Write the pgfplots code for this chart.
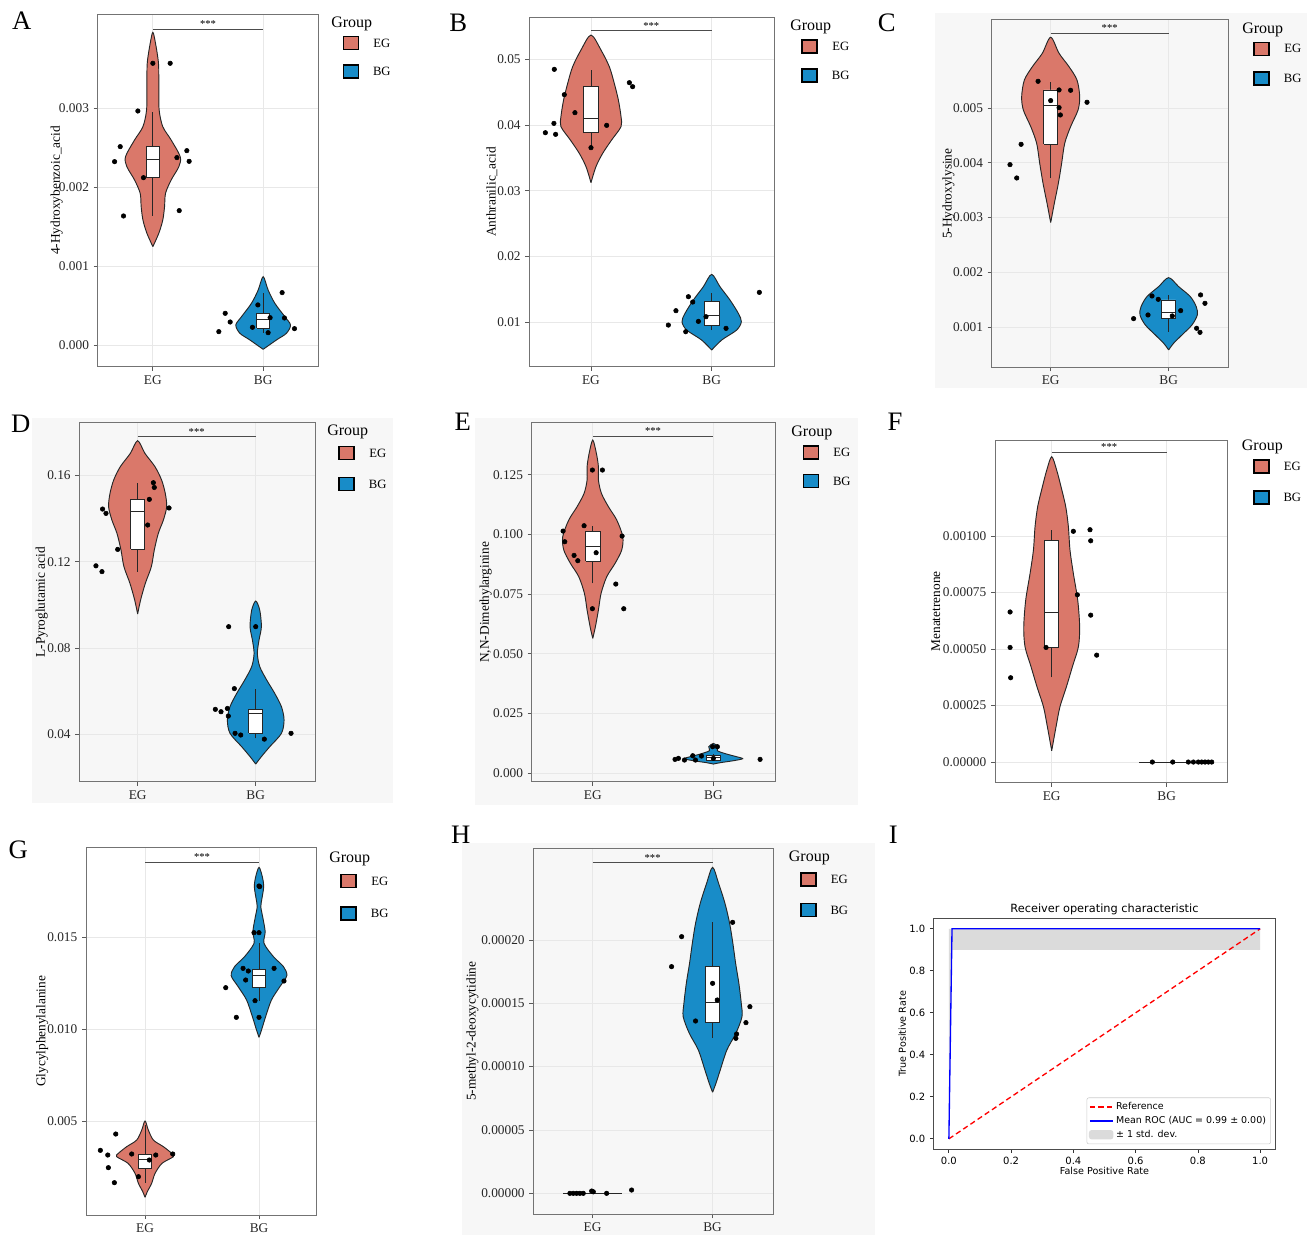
\documentclass[border=0pt]{standalone}
\usepackage{fontspec}
\setmainfont{Liberation Serif}
\newfontfamily\djv{DejaVu Sans}
\usepackage{pgfplots}
\usepackage{pgfplotstable}
\pgfplotsset{compat=1.18}
\definecolor{EGc}{RGB}{218,120,106}
\definecolor{BGc}{RGB}{24,140,200}
\definecolor{bgc}{RGB}{247,247,247}

% ---------------- violin outlines (y, signed half width): right side up, left side down ----------------
\pgfplotstableread{
y w
0.001249 0
0.001418 0.054
0.001586 0.090
0.001755 0.106
0.001924 0.115
0.002093 0.166
0.002262 0.236
0.002388 0.248
0.002599 0.166
0.002768 0.090
0.002980 0.057
0.003274 0.054
0.003570 0.051
0.003823 0.024
0.003962 0
0.003823 -0.024
0.003570 -0.051
0.003274 -0.054
0.002980 -0.057
0.002768 -0.090
0.002599 -0.166
0.002388 -0.248
0.002262 -0.236
0.002093 -0.166
0.001924 -0.115
0.001755 -0.106
0.001586 -0.090
0.001418 -0.054
0.001249 0
}\vAe
\pgfplotstableread{
y w
-0.000051 0
0.000068 0.121
0.000152 0.211
0.000257 0.248
0.000363 0.196
0.000532 0.106
0.000700 0.045
0.000869 0
0.000700 -0.045
0.000532 -0.106
0.000363 -0.196
0.000257 -0.248
0.000152 -0.211
0.000068 -0.121
-0.000051 0
}\vAb
\pgfplotstableread{
y w
0.03122 0
0.03365 0.041
0.03569 0.097
0.03772 0.171
0.03975 0.249
0.04127 0.249
0.04381 0.227
0.04635 0.193
0.04888 0.152
0.05142 0.083
0.0537 0
0.05142 -0.083
0.04888 -0.152
0.04635 -0.193
0.04381 -0.227
0.04127 -0.249
0.03975 -0.249
0.03772 -0.171
0.03569 -0.097
0.03365 -0.041
0.03122 0
}\vBe
\pgfplotstableread{
y w
0.00574 0
0.00726 0.083
0.00878 0.207
0.01005 0.246
0.01132 0.221
0.01335 0.152
0.01538 0.069
0.01726 0
0.01538 -0.069
0.01335 -0.152
0.01132 -0.221
0.01005 -0.246
0.00878 -0.207
0.00726 -0.083
0.00574 0
}\vBb
\pgfplotstableread{
y w
0.002906 0
0.003259 0.031
0.003624 0.065
0.003989 0.093
0.004355 0.119
0.004659 0.169
0.004963 0.232
0.005207 0.246
0.005511 0.223
0.005755 0.155
0.005998 0.071
0.006291 0
0.005998 -0.071
0.005755 -0.155
0.005511 -0.223
0.005207 -0.246
0.004963 -0.232
0.004659 -0.169
0.004355 -0.119
0.003989 -0.093
0.003624 -0.065
0.003259 -0.031
0.002906 0
}\vCe
\pgfplotstableread{
y w
0.000580 0
0.000702 0.042
0.000854 0.113
0.001037 0.198
0.001219 0.243
0.001371 0.234
0.001554 0.184
0.001737 0.085
0.001901 0
0.001737 -0.085
0.001554 -0.184
0.001371 -0.234
0.001219 -0.243
0.001037 -0.198
0.000854 -0.113
0.000702 -0.042
0.000580 0
}\vCb
\pgfplotstableread{
y w
0.09575 0
0.10224 0.025
0.10996 0.065
0.11768 0.116
0.12541 0.141
0.13313 0.175
0.13931 0.218
0.14548 0.246
0.15166 0.234
0.15784 0.203
0.16402 0.147
0.17019 0.062
0.17606 0
0.17019 -0.062
0.16402 -0.147
0.15784 -0.203
0.15166 -0.234
0.14548 -0.246
0.13931 -0.218
0.13313 -0.175
0.12541 -0.141
0.11768 -0.116
0.10996 -0.065
0.10224 -0.025
0.09575 0
}\vDe
\pgfplotstableread{
y w
0.02625 0
0.0297 0.048
0.0343 0.119
0.0405 0.218
0.0467 0.240
0.0528 0.218
0.0590 0.161
0.0652 0.093
0.0714 0.034
0.0775 0.014
0.0837 0.028
0.0899 0.048
0.0976 0.034
0.10178 0
0.0976 -0.034
0.0899 -0.048
0.0837 -0.028
0.0775 -0.014
0.0714 -0.034
0.0652 -0.093
0.0590 -0.161
0.0528 -0.218
0.0467 -0.240
0.0405 -0.218
0.0343 -0.119
0.0297 -0.048
0.02625 0
}\vDb
\pgfplotstableread{
y w
0.05642 0
0.06131 0.022
0.06830 0.047
0.07528 0.069
0.08227 0.116
0.08785 0.185
0.09344 0.240
0.09902 0.249
0.10601 0.199
0.11159 0.130
0.11718 0.072
0.12277 0.047
0.12835 0.047
0.13394 0.030
0.13953 0
0.13394 -0.030
0.12835 -0.047
0.12277 -0.047
0.11718 -0.072
0.11159 -0.130
0.10601 -0.199
0.09902 -0.249
0.09344 -0.240
0.08785 -0.185
0.08227 -0.116
0.07528 -0.069
0.06830 -0.047
0.06131 -0.022
0.05642 0
}\vEe
\pgfplotstableread{
y w
0.00377 0
0.00433 0.055
0.00517 0.166
0.00601 0.243
0.00684 0.193
0.00796 0.110
0.00936 0.033
0.01103 0.039
0.01242 0
0.01103 -0.039
0.00936 -0.033
0.00796 -0.110
0.00684 -0.193
0.00601 -0.243
0.00517 -0.166
0.00433 -0.055
0.00377 0
}\vEb
\pgfplotstableread{
y w
0.0000501 0
0.000157 0.038
0.000245 0.072
0.000333 0.128
0.000422 0.180
0.000510 0.232
0.000599 0.243
0.000717 0.226
0.000835 0.188
0.000938 0.159
0.001041 0.145
0.001130 0.122
0.001218 0.081
0.001292 0.043
0.001351 0
0.001292 -0.043
0.001218 -0.081
0.001130 -0.122
0.001041 -0.145
0.000938 -0.159
0.000835 -0.188
0.000717 -0.226
0.000599 -0.243
0.000510 -0.232
0.000422 -0.180
0.000333 -0.128
0.000245 -0.072
0.000157 -0.038
0.0000501 0
}\vFe
\pgfplotstableread{
y w
0.000851 0
0.001159 0.020
0.001612 0.058
0.002156 0.088
0.002699 0.149
0.003062 0.249
0.003243 0.234
0.003605 0.161
0.003967 0.073
0.004511 0.029
0.005 0
0.004511 -0.029
0.003967 -0.073
0.003605 -0.161
0.003243 -0.234
0.003062 -0.249
0.002699 -0.149
0.002156 -0.088
0.001612 -0.058
0.001159 -0.020
0.000851 0
}\vGe
\pgfplotstableread{
y w
0.009547 0
0.009946 0.022
0.010670 0.058
0.011576 0.109
0.012301 0.183
0.012899 0.244
0.013388 0.215
0.013931 0.127
0.014656 0.044
0.015290 0.054
0.016105 0.032
0.016649 0.016
0.017101 0.026
0.017736 0.041
0.018279 0.029
0.018786 0
0.018279 -0.029
0.017736 -0.041
0.017101 -0.026
0.016649 -0.016
0.016105 -0.032
0.015290 -0.054
0.014656 -0.044
0.013931 -0.127
0.013388 -0.215
0.012899 -0.244
0.012301 -0.183
0.011576 -0.109
0.010670 -0.058
0.009946 -0.022
0.009547 0
}\vGb
\pgfplotstableread{
y w
0.00007974 0
0.00008684 0.028
0.00009737 0.064
0.00011316 0.119
0.00012632 0.194
0.00013947 0.245
0.00015 0.239
0.00016579 0.219
0.00018158 0.192
0.00019737 0.169
0.00021316 0.142
0.00022895 0.103
0.00024474 0.050
0.00025737 0
0.00024474 -0.050
0.00022895 -0.103
0.00021316 -0.142
0.00019737 -0.169
0.00018158 -0.192
0.00016579 -0.219
0.00015 -0.239
0.00013947 -0.245
0.00012632 -0.194
0.00011316 -0.119
0.00009737 -0.064
0.00008684 -0.028
0.00007974 0
}\vHb

% ---------------- jittered points ----------------
\pgfplotstableread{
x y
1.000 0.003570
1.157 0.003570
0.864 0.002966
0.704 0.002515
0.653 0.002325
1.308 0.002464
1.218 0.002376
1.329 0.002329
0.915 0.002122
0.734 0.001637
1.239 0.001705
1.598 0.000173
1.656 0.000405
1.701 0.000295
1.903 0.000228
1.952 0.000511
2.063 0.000350
2.045 0.000160
2.172 0.000667
2.193 0.000346
2.284 0.000211
}\pA
\pgfplotstableread{
x y
0.696 0.04848
0.779 0.04462
0.867 0.04188
0.693 0.04025
0.622 0.03883
0.707 0.03858
1.000 0.03655
1.130 0.03995
1.318 0.04645
1.345 0.04584
1.641 0.00954
1.704 0.01173
1.807 0.01386
1.843 0.01305
1.890 0.01010
1.953 0.01081
1.785 0.00853
2.119 0.00904
2.395 0.01452
}\pB
\pgfplotstableread{
x y
0.893 0.005487
1.071 0.005329
1.169 0.005323
1.000 0.005134
1.308 0.005104
1.071 0.005006
1.082 0.004872
0.749 0.004336
0.655 0.003965
0.712 0.003721
1.703 0.001152
1.825 0.001219
1.859 0.001566
1.912 0.001505
2.031 0.001201
2.102 0.001298
2.271 0.001585
2.308 0.001432
2.237 0.000976
2.266 0.000902
}\pC
\pgfplotstableread{
x y
0.703 0.1444
0.732 0.1424
0.831 0.1257
0.647 0.1181
0.698 0.1154
1.085 0.1370
1.099 0.1489
1.133 0.1566
1.141 0.1544
1.266 0.1449
1.771 0.0899
2.000 0.0899
1.819 0.0612
1.658 0.0516
1.706 0.0505
1.760 0.0520
1.768 0.0485
1.825 0.0405
1.873 0.0397
2.073 0.0378
2.299 0.0405
}\pD
\pgfplotstableread{
x y
0.997 0.12696
1.080 0.12696
0.754 0.10139
0.768 0.09693
0.928 0.10363
0.845 0.09120
0.876 0.08897
1.028 0.09232
1.243 0.09930
1.191 0.07919
0.997 0.06885
1.257 0.06885
1.682 0.00573
1.710 0.00615
1.760 0.00545
1.829 0.00726
1.851 0.00545
1.901 0.00712
2.000 0.00615
1.994 0.01103
2.033 0.01103
2.387 0.00573
}\pE
\pgfplotstableread{
x y
0.638 0.000664
0.638 0.000507
0.643 0.000373
0.951 0.000507
1.188 0.001021
1.333 0.001028
1.339 0.000979
1.223 0.000740
1.339 0.000650
1.391 0.000473
1.875 0
2.052 0
2.188 0
2.232 0
2.275 0
2.304 0
2.333 0
2.362 0
2.391 0
}\pF
\pgfplotstableread{
x y
0.743 0.004293
0.608 0.003406
0.673 0.003152
0.678 0.002464
0.731 0.001649
0.883 0.003207
0.942 0.001975
1.038 0.002880
1.094 0.003152
1.243 0.003207
2.000 0.017772
2.006 0.017740
1.956 0.015236
2.000 0.015236
1.860 0.013297
1.906 0.013152
1.883 0.012663
2.132 0.013297
2.219 0.012609
1.708 0.012246
1.965 0.011540
1.801 0.010634
2.000 0.010634
}\pG
\pgfplotstableread{
x y
0.811 0
0.839 0
0.867 0
0.894 0
0.922 0
0.992 0.0000018
1.006 0.0000012
1.117 0
1.325 0.0000026
1.742 0.00020263
1.658 0.00017895
2.000 0.00016579
2.039 0.00015263
2.167 0.00021395
1.858 0.00013605
2.311 0.00014737
2.278 0.00013474
2.200 0.00012579
2.194 0.00012237
}\pH

% ---------------- helpers ----------------
\newcommand{\violin}[3]{%
  \addplot[smooth, fill=#3, draw=black!85, line width=0.7pt, forget plot] table[x expr=#1+\thisrow{w}, y=y]{#2};
}
% center, left, right, lower whisker, q1, median, q3, upper whisker
\newcommand{\bx}[8]{%
  \addplot[black!85, line width=0.6pt, forget plot] coordinates {(#1,#4) (#1,#5)};
  \addplot[black!85, line width=0.6pt, forget plot] coordinates {(#1,#7) (#1,#8)};
  \addplot[fill=white, draw=black!85, line width=0.6pt, forget plot] coordinates {(#2,#5) (#3,#5) (#3,#7) (#2,#7) (#2,#5)};
  \addplot[black!85, line width=0.6pt, forget plot] coordinates {(#2,#6) (#3,#6)};
}
\newcommand{\sig}[1]{%
  \addplot[black!70, line width=0.6pt, forget plot] coordinates {(1,#1) (2,#1)};
  \node[font=\fontsize{8}{8}\selectfont, anchor=south, inner sep=1pt] at (axis cs:1.5,#1) {***};
}
\newcommand{\pts}[1]{%
  \addplot[only marks, mark=*, mark size=1.7pt, black, forget plot] table[x=x, y=y]{#1};
}
\newcommand{\lgd}[4]{%
  \node[font=\fontsize{12}{14}\selectfont] at (#1+1,#2) {Group};
  \draw[line width=1.1pt, fill=EGc] (#1-7.5,#3-6.5) rectangle (#1+7.5,#3+6.5);
  \draw[line width=1.1pt, fill=BGc] (#1-7.5,#4-6.5) rectangle (#1+7.5,#4+6.5);
  \node[font=\fontsize{9.5}{11}\selectfont] at (#1+31,#3) {EG};
  \node[font=\fontsize{9.5}{11}\selectfont] at (#1+31,#4) {BG};
}
\newcommand{\plab}[3]{\node[font=\fontsize{20}{24}\selectfont] at (#1,#2) {#3};}

\pgfplotsset{vio/.style={
  scale only axis, anchor=south west,
  xtick={1,2}, xticklabels={EG,BG},
  scaled y ticks=false, scaled x ticks=false,
  tick align=outside, xtick pos=lower, ytick pos=left,
  major tick length=3pt,
  tick style={black!65, line width=0.6pt},
  axis line style={black!55, line width=0.75pt},
  grid=major, major grid style={black!9, line width=0.6pt},
  ticklabel style={font=\fontsize{10}{12}\selectfont, text=black!85},
  ylabel style={font=\fontsize{10}{12}\selectfont, anchor=center},
}}

\begin{document}
\begin{tikzpicture}[x=0.75pt, y=-0.75pt]
\path[use as bounding box] (0,0) rectangle (1316,1235);
\fill[bgc] (935,13.3) rectangle (1306.7,388.3);
\fill[bgc] (31.7,418) rectangle (393,803);
\fill[bgc] (475,418) rectangle (858,805);
\fill[bgc] (462,843) rectangle (875,1235);

% ---- A ----
\begin{axis}[vio, at={(73.28pt,-275.03pt)}, width=165.45pt, height=264.3pt,
  xmin=0.5, xmax=2.5, ymin=-0.000271, ymax=0.00419,
  ytick={0,0.001,0.002,0.003}, yticklabels={0.000,0.001,0.002,0.003},
  ylabel={4-Hydroxybenzoic\_acid}, ylabel style={at={(axis description cs:-0.186,0.5)}}]
\violin{1}{\vAe}{EGc}
\violin{2}{\vAb}{BGc}
\bx{1}{0.94}{1.06}{0.001637}{0.002122}{0.002354}{0.002515}{0.002958}
\bx{2}{1.94}{2.06}{0.00016}{0.000215}{0.000329}{0.000405}{0.000658}
\pts{\pA}
\sig{0.004004}
\end{axis}

% ---- B ----
\begin{axis}[vio, at={(396.98pt,-275.03pt)}, width=183.75pt, height=262.05pt,
  xmin=0.489, xmax=2.519, ymin=0.0032, ymax=0.0564,
  ytick={0.01,0.02,0.03,0.04,0.05}, yticklabels={0.01,0.02,0.03,0.04,0.05},
  ylabel={Anthranilic\_acid}, ylabel style={at={(axis description cs:-0.153,0.5)}}]
\violin{1}{\vBe}{EGc}
\violin{2}{\vBb}{BGc}
\bx{1}{0.94}{1.06}{0.0367}{0.03883}{0.04102}{0.04584}{0.04838}
\bx{2}{1.94}{2.06}{0.00878}{0.00944}{0.01096}{0.0131}{0.01447}
\pts{\pB}
\sig{0.05437}
\end{axis}

% ---- C ----
\begin{axis}[vio, at={(743.78pt,-275.48pt)}, width=177.45pt, height=260.5pt,
  xmin=0.5, xmax=2.506, ymin=0.000263, ymax=0.006607,
  ytick={0.001,0.002,0.003,0.004,0.005}, yticklabels={0.001,0.002,0.003,0.004,0.005},
  ylabel={5-Hydroxylysine}, ylabel style={at={(axis description cs:-0.183,0.5)}}]
\violin{1}{\vCe}{EGc}
\violin{2}{\vCb}{BGc}
\bx{1}{0.94}{1.06}{0.003715}{0.004336}{0.005049}{0.005329}{0.005481}
\bx{2}{1.94}{2.06}{0.000915}{0.001152}{0.001262}{0.001493}{0.001585}
\pts{\pC}
\sig{0.006364}
\end{axis}

% ---- D ----
\begin{axis}[vio, at={(59.48pt,-586.28pt)}, width=177.3pt, height=269.25pt,
  xmin=0.506, xmax=2.508, ymin=0.01807, ymax=0.1844,
  ytick={0.04,0.08,0.12,0.16}, yticklabels={0.04,0.08,0.12,0.16},
  ylabel={L-Pyroglutamic acid}, ylabel style={at={(axis description cs:-0.159,0.5)}}]
\violin{1}{\vDe}{EGc}
\violin{2}{\vDb}{BGc}
\bx{1}{0.94}{1.06}{0.11537}{0.12571}{0.14317}{0.14888}{0.1566}
\bx{2}{1.94}{2.06}{0.03815}{0.04046}{0.04973}{0.05158}{0.06085}
\pts{\pD}
\sig{0.1779}
\end{axis}

% ---- E ----
\begin{axis}[vio, at={(398.78pt,-586.28pt)}, width=182.5pt, height=269.25pt,
  xmin=0.494, xmax=2.511, ymin=-0.00363, ymax=0.14679,
  ytick={0,0.025,0.05,0.075,0.1,0.125}, yticklabels={0.000,0.025,0.050,0.075,0.100,0.125},
  ylabel={N,N-Dimethylarginine}, ylabel style={at={(axis description cs:-0.189,0.5)}}]
\violin{1}{\vEe}{EGc}
\violin{2}{\vEb}{BGc}
\bx{1}{0.94}{1.06}{0.07947}{0.08883}{0.09483}{0.10112}{0.10349}
\bx{2}{1.94}{2.06}{0.0052}{0.00545}{0.00656}{0.0074}{0.0078}
\pts{\pE}
\sig{0.1412}
\end{axis}

% ---- F ----
\begin{axis}[vio, at={(746.25pt,-587.03pt)}, width=174.5pt, height=257pt,
  xmin=0.507, xmax=2.53, ymin=-0.0000915, ymax=0.0014248,
  ytick={0,0.00025,0.0005,0.00075,0.001}, yticklabels={0.00000,0.00025,0.00050,0.00075,0.00100},
  ylabel={Menatetrenone}, ylabel style={at={(axis description cs:-0.254,0.5)}}]
\violin{1}{\vFe}{EGc}
\addplot[black!85, line width=0.7pt, forget plot] coordinates {(1.76,0) (2.41,0)};
\bx{1}{0.94}{1.06}{0.000375}{0.000506}{0.000661}{0.000979}{0.001027}
\pts{\pF}
\sig{0.0013717}
\end{axis}

% ---- G ----
\begin{axis}[vio, at={(64.5pt,-911.25pt)}, width=172.5pt, height=275.5pt,
  xmin=0.482, xmax=2.5, ymin=-0.000109, ymax=0.019855,
  ytick={0.005,0.01,0.015}, yticklabels={0.005,0.010,0.015},
  ylabel={Glycylphenylalanine}, ylabel style={at={(axis description cs:-0.19,0.5)}}]
\violin{1}{\vGe}{EGc}
\violin{2}{\vGb}{BGc}
\bx{1}{0.94}{1.06}{0.001649}{0.002428}{0.002917}{0.003207}{0.004783}
\bx{2}{1.94}{2.06}{0.01154}{0.012246}{0.012935}{0.013261}{0.01465}
\pts{\pG}
\sig{0.019076}
\end{axis}

% ---- H ----
\begin{axis}[vio, at={(399.98pt,-910.73pt)}, width=180pt, height=274.5pt,
  xmin=0.506, xmax=2.506, ymin=-0.00001658, ymax=0.00027237,
  ytick={0,0.00005,0.0001,0.00015,0.0002}, yticklabels={0.00000,0.00005,0.00010,0.00015,0.00020},
  ylabel={5-methyl-2-deoxycytidine}, ylabel style={at={(axis description cs:-0.254,0.5)}}]
\addplot[black!85, line width=0.7pt, forget plot] coordinates {(0.756,0) (1.242,0)};
\violin{2}{\vHb}{BGc}
\bx{2}{1.94}{2.06}{0.00012289}{0.000135}{0.00015053}{0.00017895}{0.00021447}
\pts{\pH}
\sig{0.00026105}
\end{axis}

% ---- I (ROC) ----
\begin{axis}[scale only axis, anchor=south west, at={(699.98pt,-861.98pt)},
  width=256.8pt, height=173.25pt,
  xmin=-0.05, xmax=1.05, ymin=-0.05, ymax=1.05,
  xtick={0,0.2,0.4,0.6,0.8,1}, ytick={0,0.2,0.4,0.6,0.8,1},
  xticklabels={0.0,0.2,0.4,0.6,0.8,1.0}, yticklabels={0.0,0.2,0.4,0.6,0.8,1.0},
  tick align=outside, xtick pos=lower, ytick pos=left, major tick length=2.5pt,
  tick style={black!80, line width=0.6pt},
  axis line style={black!70, line width=0.8pt},
  ticklabel style={font=\djv\fontsize{7.5}{8.5}\selectfont},
  title={Receiver operating characteristic},
  title style={font=\djv\fontsize{8.5}{10}\selectfont, at={(0.5,1)}, anchor=south, yshift=-7pt},
  xlabel={False Positive Rate}, ylabel={True Positive Rate},
  label style={font=\djv\fontsize{7.2}{8.5}\selectfont},
  xlabel style={at={(axis description cs:0.5,-0.0926)}, anchor=center},
  ylabel style={at={(axis description cs:-0.0905,0.5)}, anchor=center},
  legend cell align=left,
  legend image post style={line width=1.3pt},
  legend style={at={(0.986,0.022)}, anchor=south east, font=\djv\fontsize{7.1}{8}\selectfont,
    draw=black!20, rounded corners=1.5pt, inner sep=1.5pt, row sep=-0.5pt}]
\addplot[fill=black!14, draw=none, forget plot] coordinates {(0,0) (0,1) (1,1) (1,0.9) (0.0101,0.9) (0,0)};
\addplot[color=red, line width=1pt, dash pattern=on 4pt off 2.5pt] coordinates {(0,0) (1,1)};
\addlegendentry{Reference}
\addplot[color=blue, draw=blue, line width=1pt] coordinates {(0,0) (0.0101,1) (1,1)};
\addlegendentry{Mean ROC (AUC = 0.99 ± 0.00)}
\addlegendimage{area legend, fill=black!14, draw=black!14}
\addlegendentry{± 1 std. dev.}
\end{axis}

% ---- legends and panel letters ----
\lgd{350.8}{24}{43}{71.7}
\lgd{809.7}{26.7}{46.3}{75.5}
\lgd{1261.7}{30}{48.8}{78.3}
\lgd{346.7}{432.3}{453}{484.2}
\lgd{810.8}{432.7}{452.3}{481.2}
\lgd{1261.3}{446.7}{466.7}{497.3}
\lgd{348.7}{859.3}{881.2}{913.7}
\lgd{808.3}{857.7}{879.3}{910}
\plab{21.7}{21}{A}
\plab{458.3}{23.3}{B}
\plab{886.7}{23}{C}
\plab{20.7}{424}{D}
\plab{462.7}{421.7}{E}
\plab{895}{421.7}{F}
\plab{18.3}{850}{G}
\plab{460.7}{835}{H}
\plab{893.3}{835}{I}
\end{tikzpicture}
\end{document}
